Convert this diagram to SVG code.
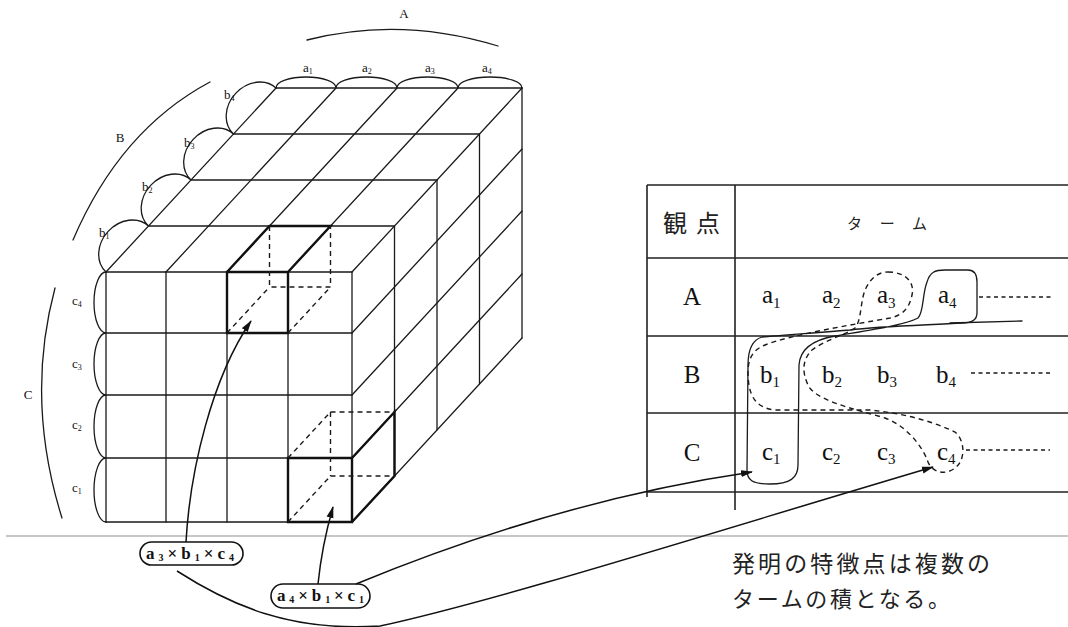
<svg xmlns="http://www.w3.org/2000/svg" width="1068" height="627" viewBox="0 0 1068 627">
<defs>
<style>
.ln{stroke:#1a1a1a;stroke-width:1.3;fill:none;stroke-linecap:round}
.bd{stroke:#111;stroke-width:2.4;fill:none;stroke-linecap:round}
.ds{stroke:#1a1a1a;stroke-width:1.4;fill:none;stroke-dasharray:5 4}
.dot{stroke:#1a1a1a;stroke-width:1.3;fill:none;stroke-dasharray:4 3.5}
.tb{stroke:#222;stroke-width:1.6;fill:none}
.sm{font-family:"Liberation Serif",serif;font-size:13px;fill:#111}
.smsub{font-size:8px}
.tl{font-family:"Liberation Serif",serif;font-size:25px;fill:#111}
.tsub{font-size:15px}
.cap{font-family:"Liberation Serif",serif;font-size:17px;font-weight:bold;fill:#111}
.capsub{font-size:10px}
.jp{font-family:"Noto Sans CJK JP","Noto Sans CJK SC",sans-serif;fill:#222}
.con{stroke:#111;stroke-width:1.5;fill:none}
</style>
<marker id="ah" viewBox="0 0 12 8" refX="11" refY="4" markerWidth="12" markerHeight="8" markerUnits="userSpaceOnUse" orient="auto">
<path d="M0,0.5 L12,4 L0,7.5 z" fill="#111"/>
</marker>
</defs>
<rect width="1068" height="627" fill="#fff"/>

<line x1="6" y1="536" x2="1068" y2="536" stroke="#b5b5b5" stroke-width="1.6"/>

<g id="cube">
<path class="ln" d="M106,272H352M106,333H352M106,395H352M106,458H352M106,522H352"/>
<path class="ln" d="M106,272V522M166,272V522M227,272V522M288,272V522M352,272V522"/>
<path class="ln" d="M148.5,226H394.5M191,180H437M233.5,134H479.5M276,88H522"/>
<path class="ln" d="M106,272L276,88M166,272L336,88M227,272L397,88M288,272L458,88M352,272L522,88"/>
<path class="ln" d="M394.5,226V476M437,180V430M479.5,134V384M522,88V338"/>
<path class="ln" d="M352,333L522,149M352,395L522,211M352,458L522,274M352,522L522,338"/>
</g>

<g id="cell-a3b1c4">
<path class="bd" d="M227,272H288V333H227Z M227,272L269.5,226H330.5L288,272"/>
<path class="ds" d="M269.5,226V287H330.5V226M227,333L269.5,287M288,333L330.5,287"/>
</g>

<g id="cell-a4b1c1">
<path class="bd" d="M288,458H352V522H288Z M352,458L394.5,412V476L352,522"/>
<path class="ds" d="M330.5,412H394.5M330.5,476H394.5M330.5,412V476M288,458L330.5,412M288,522L330.5,476"/>
</g>

<g id="axis-A">
<path class="ln" d="M307,40Q400,16 498,46"/>
<text class="sm" x="404" y="18" text-anchor="middle">A</text>
<path class="ln" d="M276,88A30,11 0 0 1 336,88A30.5,11 0 0 1 397,88A30.5,11 0 0 1 458,88A32,11 0 0 1 522,88"/>
<text class="sm" x="303" y="72">a<tspan class="smsub" dy="2">1</tspan></text>
<text class="sm" x="362" y="72">a<tspan class="smsub" dy="2">2</tspan></text>
<text class="sm" x="425" y="72">a<tspan class="smsub" dy="2">3</tspan></text>
<text class="sm" x="482" y="72">a<tspan class="smsub" dy="2">4</tspan></text>
</g>

<g id="axis-B">
<path class="ln" d="M210,82Q120,130 73,240"/>
<text class="sm" x="120" y="142" text-anchor="middle">B</text>
<path class="ln" d="M106,272A31.3,26 -47.3 0 1 148.5,226A31.3,26 -47.3 0 1 191,180A31.3,26 -47.3 0 1 233.5,134A31.3,26 -47.3 0 1 276,88"/>
<text class="sm" x="99" y="237">b<tspan class="smsub" dy="2">1</tspan></text>
<text class="sm" x="142" y="191">b<tspan class="smsub" dy="2">2</tspan></text>
<text class="sm" x="184" y="147">b<tspan class="smsub" dy="2">3</tspan></text>
<text class="sm" x="224" y="99">b<tspan class="smsub" dy="2">4</tspan></text>
</g>

<g id="axis-C">
<path class="ln" d="M55,288Q25,400 62,518"/>
<text class="sm" x="28" y="399" text-anchor="middle">C</text>
<path class="ln" d="M106,272A12,30.5 0 0 0 106,333A12,31 0 0 0 106,395A12,31.5 0 0 0 106,458A12,32 0 0 0 106,522"/>
<text class="sm" x="72" y="305">c<tspan class="smsub" dy="2">4</tspan></text>
<text class="sm" x="72" y="368">c<tspan class="smsub" dy="2">3</tspan></text>
<text class="sm" x="72" y="429">c<tspan class="smsub" dy="2">2</tspan></text>
<text class="sm" x="72" y="492">c<tspan class="smsub" dy="2">1</tspan></text>
</g>

<g id="label-a3b1c4">
<rect x="140" y="542" width="103" height="23" rx="11.5" fill="#fff" stroke="#111" stroke-width="1.6"/>
<text class="cap" x="146" y="559" textLength="88" lengthAdjust="spacing">a<tspan class="capsub" dy="2">3</tspan><tspan dy="-2">×b</tspan><tspan class="capsub" dy="2">1</tspan><tspan dy="-2">×c</tspan><tspan class="capsub" dy="2">4</tspan></text>
</g>

<g id="label-a4b1c1">
<rect x="271" y="584" width="99" height="24" rx="12" fill="#fff" stroke="#111" stroke-width="1.6"/>
<text class="cap" x="277" y="601" textLength="87" lengthAdjust="spacing">a<tspan class="capsub" dy="2">4</tspan><tspan dy="-2">×b</tspan><tspan class="capsub" dy="2">1</tspan><tspan dy="-2">×c</tspan><tspan class="capsub" dy="2">1</tspan></text>
</g>

<g id="table">
<path class="tb" d="M647,185H1068M647,258H1068M647,336H1068M647,413H1068M647,492H1068"/>
<path class="tb" d="M647,185V497M735,185V510"/>
<text class="jp" x="663" y="232" font-size="24" textLength="57" lengthAdjust="spacing">観点</text>
<text class="jp" x="847" y="229" font-size="15" textLength="80" lengthAdjust="spacing">ターム</text>
<text class="tl" x="692" y="305" text-anchor="middle">A</text>
<text class="tl" x="692" y="383" text-anchor="middle">B</text>
<text class="tl" x="692" y="461" text-anchor="middle">C</text>
<text class="tl" x="762" y="303">a<tspan class="tsub" dy="5">1</tspan></text>
<text class="tl" x="822" y="303">a<tspan class="tsub" dy="5">2</tspan></text>
<text class="tl" x="877" y="303">a<tspan class="tsub" dy="5">3</tspan></text>
<text class="tl" x="938" y="303">a<tspan class="tsub" dy="5">4</tspan></text>
<text class="tl" x="760" y="383">b<tspan class="tsub" dy="4">1</tspan></text>
<text class="tl" x="822" y="383">b<tspan class="tsub" dy="4">2</tspan></text>
<text class="tl" x="877" y="383">b<tspan class="tsub" dy="4">3</tspan></text>
<text class="tl" x="936" y="383">b<tspan class="tsub" dy="4">4</tspan></text>
<text class="tl" x="762" y="460">c<tspan class="tsub" dy="4">1</tspan></text>
<text class="tl" x="822" y="460">c<tspan class="tsub" dy="4">2</tspan></text>
<text class="tl" x="877" y="460">c<tspan class="tsub" dy="4">3</tspan></text>
<text class="tl" x="937" y="460">c<tspan class="tsub" dy="4">4</tspan></text>
<path class="dot" d="M979,297H1053M971,373H1050M966,450H1050"/>
</g>

<g id="selection-solid">
<path class="ln" stroke-width="1.9" d="M762,337C752,340 748,350 748,365L747,470C747,480 752,484 770,484C790,484 798,478 798,465L799,365C800,350 812,340 835,336C870,330 905,325 918,318C924,312 922,295 927,282C930,272 935,270 945,270L968,270C975,270 977,275 977,282L977,313C977,320 972,323 962,323C930,325 880,326 850,330C810,333 780,336 762,337Z"/>
<path class="ln" stroke-width="1.9" d="M950,323L1022,321"/>
</g>

<g id="selection-dashed">
<path class="ds" stroke-width="1.6" d="M888,272C905,272 915,282 912,295C910,305 905,315 890,318C850,325 790,335 765,345C752,350 748,360 748,372C748,395 755,408 775,410L870,410C900,413 930,420 955,432C965,440 966,460 955,468C945,476 932,472 928,462C922,445 905,425 885,418C850,408 815,400 808,385C802,372 802,360 812,350C825,340 845,335 855,328C862,320 860,300 866,288C872,276 880,272 888,272Z"/>
</g>

<g id="connectors">
<path class="con" marker-end="url(#ah)" d="M186,542C190,470 212,378 251,321"/>
<path class="con" marker-end="url(#ah)" d="M318,584Q322,545 333,507"/>
<path class="con" marker-end="url(#ah)" d="M356,584Q560,500 752,472"/>
<path class="con" marker-end="url(#ah)" d="M177,571C230,605 290,632 380,626C500,600 720,530 933,467"/>
</g>

<g id="caption">
<text class="jp" x="732" y="572" font-size="23" textLength="258" lengthAdjust="spacing">発明の特徴点は複数の</text>
<text class="jp" x="732" y="607" font-size="22" textLength="218" lengthAdjust="spacing">タームの積となる。</text>
</g>
</svg>
